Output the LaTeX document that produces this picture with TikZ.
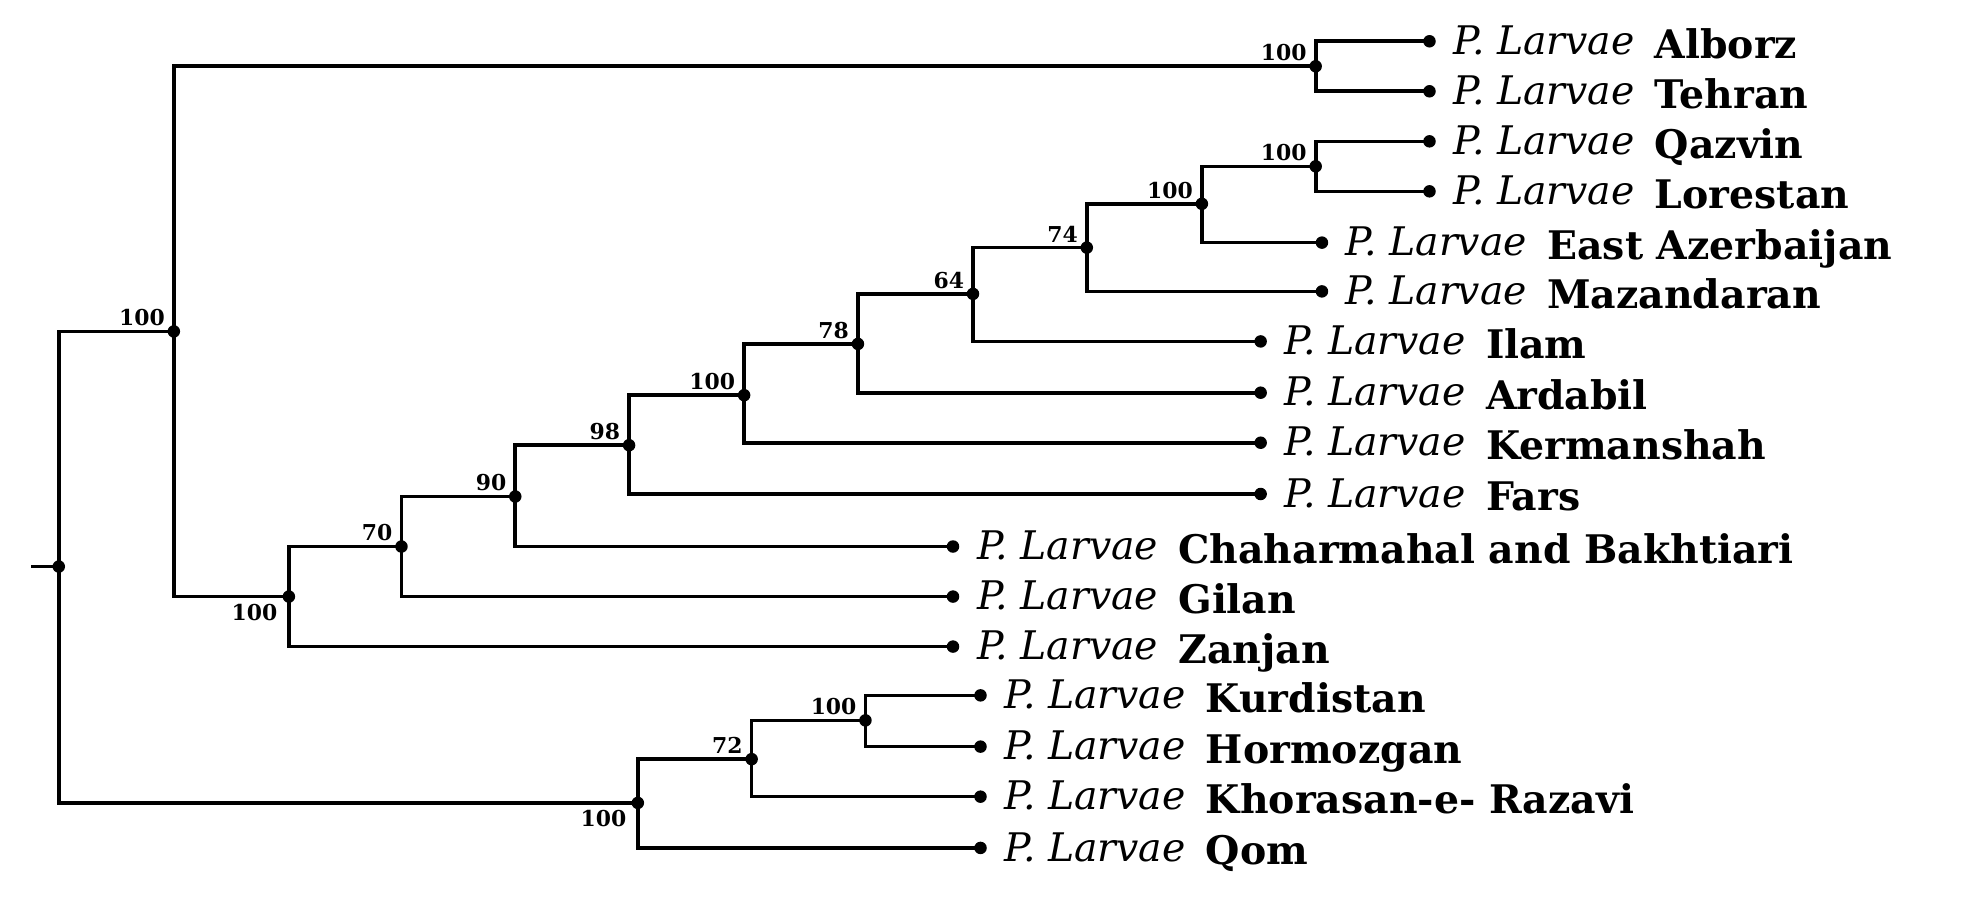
\documentclass[tikz,border=0pt]{standalone}
\usepackage{fontspec}
\setmainfont{DejaVu Serif}
\usetikzlibrary{calc}
\begin{document}
\begin{tikzpicture}[x=1pt,y=-1pt,
  branch/.style={line width=2.9pt, line join=miter},
  dot/.style={circle, fill=black, inner sep=0pt, minimum size=10pt},
  supp/.style={font=\bfseries\fontsize{17.5}{17.5}\selectfont, inner sep=0pt, anchor=south east},
  suppbelow/.style={font=\bfseries\fontsize{17.5}{17.5}\selectfont, inner sep=0pt, anchor=north east},
  taxon/.style={anchor=base west, inner sep=0pt, font=\fontsize{31.5}{33}\selectfont}]
\useasboundingbox (0,0) rectangle (1568,722);
\newcommand\tipleaf[4]{%
  \node[dot] (#1) at (#2,#3) {};
  \node[taxon] (#1l) at ($(#1)+(19,10.5)$) {\makebox[161pt][l]{\itshape P. Larvae}\raisebox{-3pt}{\bfseries #4}};}
\newcommand\inner[3]{\node[dot] (#1) at (#2,#3) {};}
% internal nodes
\inner{root}{47}{453}
\inner{A}{139}{265}
\inner{B}{1052}{53}
\inner{C}{231}{477}
\inner{D}{321}{437}
\inner{E}{412}{397}
\inner{F}{503}{356}
\inner{G}{595}{316}
\inner{H}{686}{275}
\inner{I}{778}{235}
\inner{J}{869}{198}
\inner{K}{961}{163}
\inner{L}{1052}{133}
\inner{M}{510}{642}
\inner{N}{601}{607}
\inner{O}{692}{576}
% tips
\tipleaf{alb}{1143}{33}{Alborz}
\tipleaf{teh}{1143}{73}{Tehran}
\tipleaf{qaz}{1143}{113}{Qazvin}
\tipleaf{lor}{1143}{153}{Lorestan}
\tipleaf{eaz}{1057}{194}{East Azerbaijan}
\tipleaf{maz}{1057}{233}{Mazandaran}
\tipleaf{ila}{1008}{273}{Ilam}
\tipleaf{ard}{1008}{314}{Ardabil}
\tipleaf{ker}{1008}{354}{Kermanshah}
\tipleaf{far}{1008}{395}{Fars}
\tipleaf{cha}{762}{437}{Chaharmahal and Bakhtiari}
\tipleaf{gil}{762}{477}{Gilan}
\tipleaf{zan}{762}{517}{Zanjan}
\tipleaf{kur}{784}{556}{Kurdistan}
\tipleaf{hor}{784}{597}{Hormozgan}
\tipleaf{kho}{784}{637}{Khorasan-e- Razavi}
\tipleaf{qom}{784}{678}{Qom}
% stub
\coordinate (stub) at (25,453);
\draw[branch] (stub) -- (root.center);
% clades
\draw[branch] (A.center) -| (root.center) |- (M.center);
\draw[branch] (B.center) -| (A.center) |- (C.center);
\draw[branch] (alb.center) -| (B.center) |- (teh.center);
\draw[branch] (D.center) -| (C.center) |- (zan.center);
\draw[branch] (E.center) -| (D.center) |- (gil.center);
\draw[branch] (F.center) -| (E.center) |- (cha.center);
\draw[branch] (G.center) -| (F.center) |- (far.center);
\draw[branch] (H.center) -| (G.center) |- (ker.center);
\draw[branch] (I.center) -| (H.center) |- (ard.center);
\draw[branch] (J.center) -| (I.center) |- (ila.center);
\draw[branch] (K.center) -| (J.center) |- (maz.center);
\draw[branch] (L.center) -| (K.center) |- (eaz.center);
\draw[branch] (qaz.center) -| (L.center) |- (lor.center);
\draw[branch] (N.center) -| (M.center) |- (qom.center);
\draw[branch] (O.center) -| (N.center) |- (kho.center);
\draw[branch] (kur.center) -| (O.center) |- (hor.center);
% support values
\node[supp] (sA) at ($(A)+(-7,-4)$) {100};
\node[supp] (sB) at ($(B)+(-7,-4)$) {100};
\node[supp] (sL) at ($(L)+(-7,-4)$) {100};
\node[supp] (sK) at ($(K)+(-7,-4)$) {100};
\node[supp] (sJ) at ($(J)+(-7,-4)$) {74};
\node[supp] (sI) at ($(I)+(-7,-4)$) {64};
\node[supp] (sH) at ($(H)+(-7,-4)$) {78};
\node[supp] (sG) at ($(G)+(-7,-4)$) {100};
\node[supp] (sF) at ($(F)+(-7,-4)$) {98};
\node[supp] (sE) at ($(E)+(-7,-4)$) {90};
\node[supp] (sD) at ($(D)+(-7,-4)$) {70};
\node[suppbelow] (sC) at ($(C)+(-9,6)$) {100};
\node[suppbelow] (sM) at ($(M)+(-9,6)$) {100};
\node[supp] (sN) at ($(N)+(-7,-4)$) {72};
\node[supp] (sO) at ($(O)+(-7,-4)$) {100};
\end{tikzpicture}
\end{document}
